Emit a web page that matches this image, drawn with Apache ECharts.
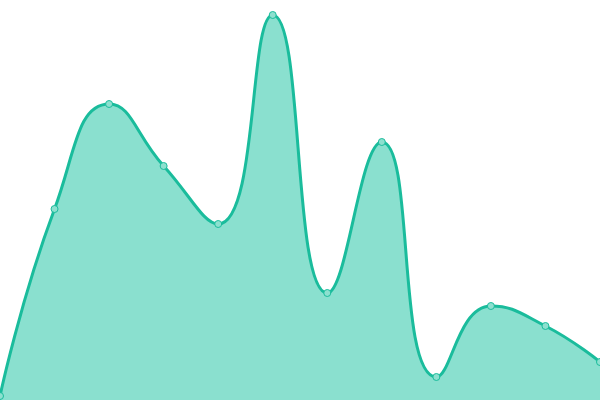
<!DOCTYPE html>
<html>
<head>
<meta charset="utf-8">
<script src="https://cdn.jsdelivr.net/npm/echarts@6/dist/echarts.min.js"></script>
<style>html,body{margin:0;padding:0;background:#fff}#c{width:600px;height:400px}</style>
</head>
<body>
<div id="c"></div>
<script>
const categories = ['1','2','3','4','5','6','7','8','9','10','11','12'];
const values = [4, 191, 296, 234, 176, 385, 107, 258, 23, 94, 74, 38];

const chart = echarts.init(document.getElementById('c'));
chart.setOption({
  animation: false,
  grid: { left: 0, right: 0, top: 0, bottom: 0 },
  xAxis: { type: 'category', data: categories, boundaryGap: false, show: false },
  yAxis: { type: 'value', min: 0, max: 400, show: false },
  series: [{
    type: 'line',
    data: values,
    smooth: true,
    symbol: 'circle',
    symbolSize: 7,
    lineStyle: { color: '#1abc9c', width: 3 },
    itemStyle: { color: '#8de0cf', borderColor: '#1abc9c', borderWidth: 1 },
    areaStyle: { color: '#8ae0cf', opacity: 1 }
  }]
});
</script>
</body>
</html>
